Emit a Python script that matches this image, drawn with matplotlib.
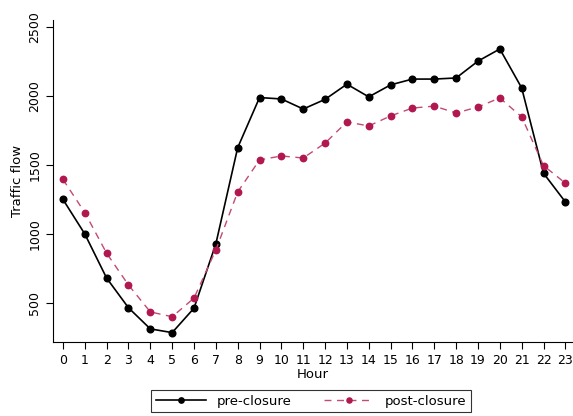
import matplotlib
matplotlib.use("Agg")
import matplotlib.pyplot as plt

# Datos
horas = list(range(24))
pre_closure = [1250, 1000, 680, 465, 312, 285, 462, 928, 1625, 1988,
               1978, 1905, 1975, 2085, 1993, 2080, 2122, 2122, 2130, 2252,
               2340, 2058, 1440, 1232]
post_closure = [1395, 1155, 860, 630, 435, 400, 535, 884, 1304, 1536,
                1565, 1550, 1658, 1812, 1782, 1855, 1912, 1926, 1876, 1920,
                1985, 1848, 1495, 1368]
yticks = [500, 1000, 1500, 2000, 2500]

rojo = "#b0184f"

fig = plt.figure(figsize=(5.73, 4.16), dpi=100)
ax = fig.add_axes([53 / 573, 1 - 342 / 416, 1 - 53 / 573, (342 - 20) / 416])

ax.plot(horas, pre_closure, color="black", linewidth=1.2, marker="o",
        markersize=4.8, label="pre-closure")
ax.plot(horas, post_closure, color="#c24a74", linewidth=1.0, linestyle=(0, (5, 4)),
        marker="o", markersize=4.6, markeredgecolor=rojo, markerfacecolor=rojo,
        label="post-closure")

ax.set_xlim(-0.455, 23.35)
ax.set_ylim(217, 2550)
ax.set_xticks(horas)
ax.set_yticks(yticks)
ax.spines["top"].set_visible(False)
ax.spines["right"].set_visible(False)
ax.tick_params(axis="both", direction="out", length=5, width=0.8, labelsize=9)
for lab in ax.get_yticklabels():
    lab.set_rotation(90)
    lab.set_va("center")

ax.set_xlabel("Hour", fontsize=9.5, labelpad=1)
ax.set_ylabel("Traffic flow", fontsize=9.5, labelpad=3)

leg = fig.legend(loc="center", bbox_to_anchor=(311 / 573, 1 - 401 / 416),
                 ncol=2, fontsize=9.5, frameon=True, fancybox=False,
                 edgecolor="black", handlelength=3.8, columnspacing=2.5,
                 borderpad=0.35, markerscale=0.8)
leg.get_frame().set_linewidth(0.8)

plt.savefig("out.png", dpi=100)
